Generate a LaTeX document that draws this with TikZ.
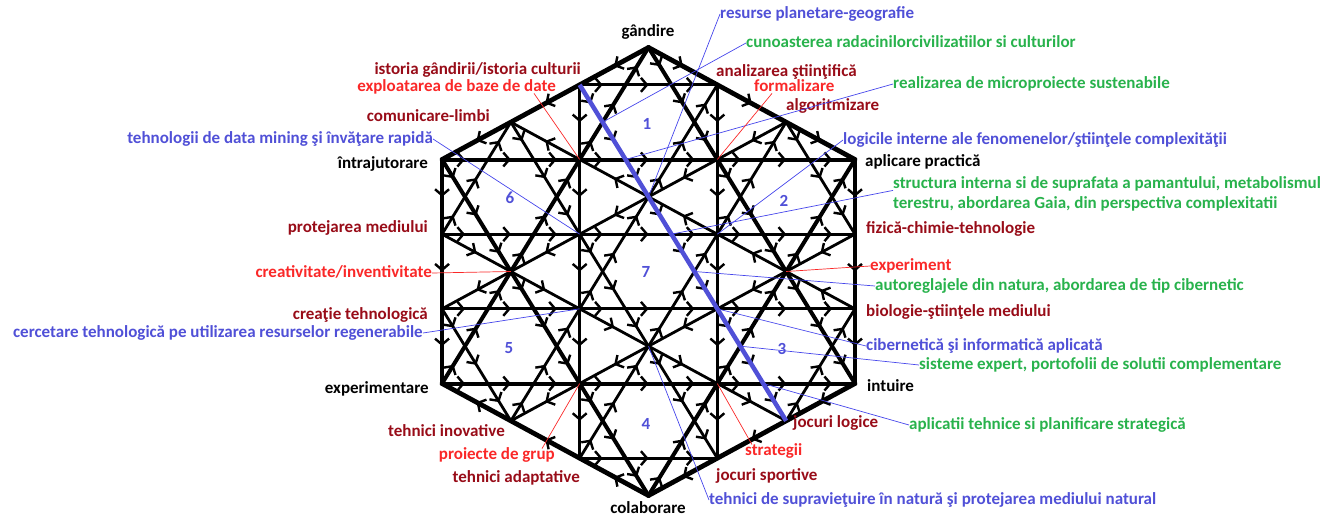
\documentclass[tikz,border=0pt]{standalone}
\usepackage{fontspec}
\setmainfont{Carlito}
\usetikzlibrary{arrows.meta}
\usetikzlibrary{decorations.markings}

\definecolor{darkred}{RGB}{152,12,24}
\definecolor{brightred}{RGB}{250,40,40}
\definecolor{textblue}{RGB}{80,80,215}
\definecolor{textgreen}{RGB}{40,178,76}
\definecolor{leadblue}{RGB}{70,70,235}

\newcommand{\sq}{1.7320508}

\tikzset{
  lbl/.style={font=\fontsize{17}{19}\selectfont\bfseries, inner sep=0pt, text height=2.3ex, text depth=.3ex},
  hexline/.style={line width=4.8pt, line cap=round},
  starline/.style={line width=4pt, line cap=round},
  gridline/.style={line width=2.8pt, line cap=round},
  barb/.tip={Straight Barb[length=6pt,width=14pt,line width=2.4pt]},
  arr3/.style={postaction={decorate}, decoration={markings, mark=between positions 0.16667 and 1 step 0.33333 with {\arrow{barb}}}},
  arr5/.style={postaction={decorate}, decoration={markings, mark=between positions 0.1 and 1 step 0.2 with {\arrow{barb}}}},
  arr9/.style={postaction={decorate}, decoration={markings, mark=between positions 0.055556 and 1 step 0.111111 with {\arrow{barb}}}},
  leader/.style={line width=0.7pt},
}

\begin{document}
\begin{tikzpicture}[x=1pt,y=-1pt]
\useasboundingbox (0,0) rectangle (1333,522);
\coordinate (O) at (648.5,271.5);

% the lattice, in hexagon units
\begin{scope}[shift={(O)},x=119.2pt,y=112pt]
\coordinate (T) at (0,2);
\coordinate (TL) at (-\sq,1);
\coordinate (BL) at (-\sq,-1);
\coordinate (Bo) at (0,-2);
\coordinate (BR) at (\sq,-1);
\coordinate (TR) at (\sq,1);

% vertical and 30 degree chords
\draw[gridline,arr5] ({-\sq/3},5/3) -- ({-\sq/3},-5/3);
\draw[gridline,arr5] ({\sq/3},5/3) -- ({\sq/3},-5/3);
\draw[gridline,arr5] ({2*\sq/3},4/3) -- (-\sq,-1/3);
\draw[gridline,arr5] (\sq,1/3) -- ({-2*\sq/3},-4/3);
\draw[gridline,arr5] (\sq,-1/3) -- ({-2*\sq/3},4/3);
\draw[gridline,arr5] (-\sq,1/3) -- ({2*\sq/3},-4/3);

% horizontal chords
\draw[gridline,arr3] ({-\sq/3},5/3) -- ({\sq/3},5/3);
\draw[gridline,arr9] (-\sq,1/3) -- (\sq,1/3);
\draw[gridline,arr9] (-\sq,-1/3) -- (\sq,-1/3);
\draw[gridline,arr3] ({-\sq/3},-5/3) -- ({\sq/3},-5/3);

% 60 degree chords
\draw[gridline,arr3] (-\sq,1/3) -- ({-2*\sq/3},4/3);
\draw[gridline,arr9] ({-2*\sq/3},-4/3) -- ({\sq/3},5/3);
\draw[gridline,arr9] ({-\sq/3},-5/3) -- ({2*\sq/3},4/3);
\draw[gridline,arr3] ({2*\sq/3},-4/3) -- (\sq,-1/3);
\draw[gridline,arr3] ({2*\sq/3},4/3) -- (\sq,1/3);
\draw[gridline,arr9] ({-\sq/3},5/3) -- ({2*\sq/3},-4/3);
\draw[gridline,arr9] ({-2*\sq/3},4/3) -- ({\sq/3},-5/3);
\draw[gridline,arr3] (-\sq,-1/3) -- ({-2*\sq/3},-4/3);

% star of david
\draw[starline,arr9] (TL) -- (TR);
\draw[starline,arr9] (BL) -- (BR);
\draw[starline,arr9] (BL) -- (T);
\draw[starline,arr9] (Bo) -- (TR);
\draw[starline,arr9] (T) -- (BR);
\draw[starline,arr9] (TL) -- (Bo);

% hexagon
\draw[hexline,arr3] (T) -- (TL);
\draw[hexline,arr3] (TL) -- (BL);
\draw[hexline,arr3] (Bo) -- (BL);
\draw[hexline,arr3] (T) -- (TR);
\draw[hexline,arr3] (TR) -- (BR);
\draw[hexline,arr3] (BR) -- (Bo);

\draw[textblue,line width=4.5pt] ({-\sq/3},5/3) -- ({2*\sq/3},-4/3);

% points the labels point at
\coordinate (pc) at (0,2/3);
\coordinate (pcun) at ({-2*\sq/9},4/3);
\coordinate (pmic) at ({-\sq/9},1);
\coordinate (pdm) at ({-\sq/3},1/3);
\coordinate (plog) at ({\sq/3},1/3);
\coordinate (pstr) at ({\sq/9},1/3);
\coordinate (paut) at ({2*\sq/9},0);
\coordinate (pcib) at ({\sq/3},-1/3);
\coordinate (psis) at ({4*\sq/9},-2/3);
\coordinate (papl) at ({5*\sq/9},-1);
\coordinate (psup) at (0,-2/3);
\coordinate (pcer) at ({-\sq/3},-1/3);
\coordinate (pexp) at ({-\sq/3},1);
\coordinate (pfor) at ({\sq/3},1);
\coordinate (pcre) at ({-2*\sq/3},0);
\coordinate (pexm) at ({2*\sq/3},0);
\coordinate (ppro) at ({-\sq/3},-1);
\coordinate (pstg) at ({\sq/3},-1);
\end{scope}

% sector numbers
\node[lbl,textblue] (n1) at (647,125) {1};
\node[lbl,textblue] (n2) at (784,202) {2};
\node[lbl,textblue] (n3) at (782,350) {3};
\node[lbl,textblue] (n4) at (646,425) {4};
\node[lbl,textblue] (n5) at (509,349) {5};
\node[lbl,textblue] (n6) at (510,199) {6};
\node[lbl,textblue] (n7) at (646,273) {7};

% corner words
\node[lbl] (gandire) at (648,32) {gândire};
\node[lbl] (colab) at (648,509) {colaborare};
\node[lbl,anchor=east] (intraj) at (428,164) {întrajutorare};
\node[lbl,anchor=east] (experimt) at (429,389) {experimentare};
\node[lbl,anchor=west] (aplic) at (865,162) {aplicare practică};
\node[lbl,anchor=west] (intuire) at (867,387) {intuire};

% left side
\node[lbl,anchor=east,darkred] (istoria) at (581,70) {istoria gândirii/istoria culturii};
\node[lbl,anchor=east,brightred] (explo) at (556,87) {exploatarea de baze de date};
\node[lbl,anchor=east,darkred] (comunic) at (490,117) {comunicare-limbi};
\node[lbl,anchor=east,textblue] (datamin) at (433,139) {tehnologii de data mining şi învăţare rapidă};
\node[lbl,anchor=east,darkred] (proteja) at (428,228) {protejarea mediului};
\node[lbl,anchor=east,brightred] (creativ) at (432,273) {creativitate/inventivitate};
\node[lbl,anchor=east,darkred] (creatie) at (428,315) {creaţie tehnologică};
\node[lbl,anchor=east,textblue] (cercet) at (423,333) {cercetare tehnologică pe utilizarea resurselor regenerabile};
\node[lbl,anchor=east,darkred] (tinov) at (505,432) {tehnici inovative};
\node[lbl,anchor=east,brightred] (proiect) at (555,455) {proiecte de grup};
\node[lbl,anchor=east,darkred] (tadapt) at (580,478) {tehnici adaptative};

% right side
\node[lbl,anchor=west,textblue] (resurse) at (720,14) {resurse planetare-geografie};
\node[lbl,anchor=west,textgreen] (cunoast) at (746,43) {cunoasterea radacinilorcivilizatiilor si culturilor};
\node[lbl,anchor=west,darkred] (analiz) at (716,72) {analizarea ştiinţifică};
\node[lbl,anchor=west,brightred] (formal) at (754,87) {formalizare};
\node[lbl,anchor=west,darkred] (algor) at (786,106) {algoritmizare};
\node[lbl,anchor=west,textgreen] (microp) at (893,84) {realizarea de microproiecte sustenabile};
\node[lbl,anchor=west,textblue] (logic) at (843,140) {logicile interne ale fenomenelor/ştiinţele complexităţii};
\node[lbl,anchor=west,textgreen] (struct1) at (893,184) {structura interna si de suprafata a pamantului, metabolismul};
\node[lbl,anchor=west,textgreen] (struct2) at (893,204) {terestru, abordarea Gaia, din perspectiva complexitatii};
\node[lbl,anchor=west,darkred] (fizica) at (866,229) {fizică-chimie-tehnologie};
\node[lbl,anchor=west,brightred] (experim) at (870,266) {experiment};
\node[lbl,anchor=west,textgreen] (autoreg) at (875,286) {autoreglajele din natura, abordarea de tip cibernetic};
\node[lbl,anchor=west,darkred] (biolog) at (866,312) {biologie-ştiinţele mediului};
\node[lbl,anchor=west,textblue] (cibern) at (866,346) {cibernetică şi informatică aplicată};
\node[lbl,anchor=west,textgreen] (sistem) at (919,365) {sisteme expert, portofolii de solutii complementare};
\node[lbl,anchor=west,darkred] (jlogice) at (793,423) {jocuri logice};
\node[lbl,anchor=west,textgreen] (aplicat) at (909,425) {aplicatii tehnice si planificare strategică};
\node[lbl,anchor=west,brightred] (strateg) at (745,451) {strategii};
\node[lbl,anchor=west,darkred] (jsport) at (716,476) {jocuri sportive};
\node[lbl,anchor=west,textblue] (supraviet) at (709,500) {tehnici de supravieţuire în natură şi protejarea mediului natural};

% leaders
\draw[leader,leadblue] (resurse.west) -- (pc);
\draw[leader,leadblue] (cunoast.west) -- (pcun);
\draw[leader,leadblue] (microp.west) -- (pmic);
\draw[leader,leadblue] (datamin.east) -- (pdm);
\draw[leader,leadblue] (logic.west) -- (plog);
\draw[leader,leadblue] (struct1.south west) -- (pstr);
\draw[leader,leadblue] (autoreg.west) -- (paut);
\draw[leader,leadblue] (cibern.west) -- (pcib);
\draw[leader,leadblue] (sistem.west) -- (psis);
\draw[leader,leadblue] (aplicat.west) -- (papl);
\draw[leader,leadblue] (supraviet.west) -- (psup);
\draw[leader,leadblue] (cercet.east) -- (pcer);
\draw[leader,brightred] ([xshift=-22pt]explo.south east) -- (pexp);
\draw[leader,brightred] ([xshift=18pt]formal.south west) -- (pfor);
\draw[leader,brightred] (creativ.east) -- (pcre);
\draw[leader,brightred] (experim.west) -- (pexm);
\draw[leader,brightred] ([xshift=-13pt]proiect.north east) -- (ppro);
\draw[leader,brightred] ([xshift=7pt]strateg.north west) -- (pstg);
\end{tikzpicture}
\end{document}
